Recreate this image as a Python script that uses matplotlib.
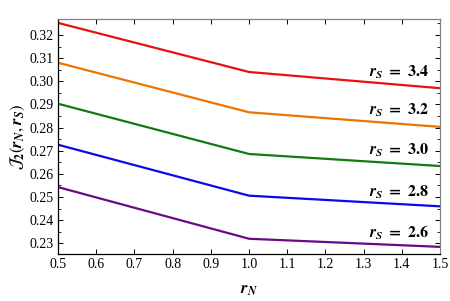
import numpy as np
import matplotlib
matplotlib.use("Agg")
import matplotlib.pyplot as plt
from matplotlib.ticker import MultipleLocator, FormatStrFormatter

plt.rcParams["font.family"] = ["Liberation Serif", "DejaVu Serif"]
plt.rcParams["mathtext.fontset"] = "stix"

# r_N sample points and J2 values for each r_S
r_n = [0.5, 1.0, 1.5]
r_s_labels = ["3.4", "3.2", "3.0", "2.8", "2.6"]
j2_34 = [0.3252, 0.3040, 0.2970]
j2_32 = [0.3080, 0.2866, 0.2803]
j2_30 = [0.2903, 0.2686, 0.2634]
j2_28 = [0.2726, 0.2506, 0.2460]
j2_26 = [0.2543, 0.2320, 0.2285]
label_y = [0.3040, 0.2875, 0.2700, 0.2522, 0.2344]

colors = ["#e81010", "#ee7300", "#117a11", "#0a0aee", "#6a0a85"]
series = [j2_34, j2_32, j2_30, j2_28, j2_26]

fig = plt.figure(figsize=(4.5, 3.01), dpi=100)
ax = fig.add_axes([0.129, 0.156, 0.849, 0.781])

for vals, c, lab, ly in zip(series, colors, r_s_labels, label_y):
    ax.plot(r_n, vals, color=c, lw=1.6)
    ax.text(1.47, ly,
            r"$\mathbfit{r}_{\mathbfit{S}}\ \mathbf{=}\ \mathbf{" + lab + "}$",
            ha="right", va="center", fontsize=11.5)

ax.set_xlim(0.5, 1.5)
ax.set_ylim(0.2254, 0.3269)
ax.xaxis.set_major_locator(MultipleLocator(0.1))
ax.yaxis.set_major_locator(MultipleLocator(0.01))
ax.yaxis.set_minor_locator(MultipleLocator(0.005))
ax.xaxis.set_major_formatter(FormatStrFormatter("%.1f"))
ax.yaxis.set_major_formatter(FormatStrFormatter("%.2f"))
ax.tick_params(which="both", direction="in", top=True, right=True,
               labelsize=10, pad=3)
ax.tick_params(which="major", length=3.5, width=0.7)
ax.tick_params(which="minor", length=2, width=0.6)
for s in ["top", "right"]:
    ax.spines[s].set_color("#808080")
for s in ax.spines.values():
    s.set_linewidth(0.9)

ax.set_xlabel(r"$\mathbfit{r}_{\mathbfit{N}}$", fontsize=12, labelpad=8)
ax.set_ylabel(r"$\mathbfit{\mathcal{J}}_{\mathbf{2}}(\mathbfit{r}_{\mathbfit{N}},\mathbfit{r}_{\mathbfit{S}})$",
              fontsize=12, labelpad=2)

fig.savefig("out.png", dpi=100)
